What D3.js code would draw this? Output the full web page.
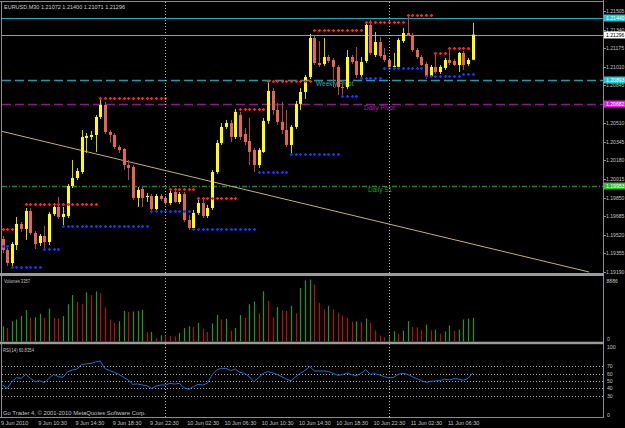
<!DOCTYPE html>
<html>
<head>
<meta charset="utf-8">
<script src="https://cdn.jsdelivr.net/npm/d3@7"></script>
<style>
body { margin:0; background:#000; }
svg { display:block; }
text { font-family:"Liberation Sans", Arial, sans-serif; font-size:5.8px; fill:#c4c4c4; }
text.axis { font-size:5.1px; }
</style>
</head>
<body>
<svg id="chart" width="625" height="428"></svg>
<script>

// EURUSD M30, 9 Jun 06:30 -> 11 Jun 09:00 (102 bars)
var opens = [1.19483,1.19385,1.19270,1.19430,1.19616,1.19572,1.19731,1.19536,1.19448,1.19510,
1.19456,1.19705,1.19767,1.19678,1.19687,1.19953,1.20024,1.20077,1.20379,1.20388,
1.20406,1.20565,1.20672,1.20432,1.20406,1.20299,1.20281,1.20139,1.20122,1.19847,
1.19927,1.19856,1.19864,1.19749,1.19864,1.19847,1.19802,1.19900,1.19811,1.19882,
1.19652,1.19581,1.19714,1.19802,1.19687,1.19758,1.20077,1.20335,1.20477,1.20512,
1.20388,1.20583,1.20414,1.20352,1.20272,1.20139,1.20255,1.20530,1.20796,1.20627,
1.20521,1.20450,1.20317,1.20477,1.20681,1.20787,1.20920,1.21266,1.21044,1.21035,
1.21097,1.21071,1.21009,1.20831,1.20831,1.21097,1.21062,1.20938,1.21062,1.21381,
1.21115,1.21230,1.21115,1.21071,1.21009,1.21009,1.21239,1.21310,1.21293,1.21159,
1.21097,1.21035,1.20929,1.21009,1.20964,1.21000,1.21071,1.21062,1.21026,1.21133,
1.21035,1.21072];

var highs = [1.19510,1.19412,1.19456,1.19678,1.19634,1.19758,1.19758,1.19554,1.19527,1.19598,
1.19723,1.19802,1.19856,1.19767,1.19971,1.20184,1.20113,1.20450,1.20423,1.20441,
1.20583,1.20743,1.20698,1.20450,1.20423,1.20317,1.20290,1.20184,1.20139,1.19944,
1.19944,1.19891,1.19882,1.19882,1.19882,1.19864,1.19918,1.19935,1.19900,1.19900,
1.19696,1.19740,1.19829,1.19829,1.19785,1.20095,1.20361,1.20512,1.20539,1.20539,
1.20636,1.20610,1.20468,1.20556,1.20290,1.20290,1.20556,1.20885,1.20822,1.20689,
1.20698,1.20627,1.20494,1.20707,1.20822,1.20938,1.21301,1.21284,1.21239,1.21266,
1.21115,1.21089,1.21026,1.20893,1.21159,1.21115,1.21186,1.21097,1.21408,1.21426,
1.21319,1.21275,1.21177,1.21089,1.21133,1.21266,1.21355,1.21470,1.21310,1.21177,
1.21115,1.21053,1.21026,1.21142,1.21026,1.21089,1.21177,1.21080,1.21142,1.21151,
1.21089,1.21400];

var lows = [1.19359,1.19244,1.19235,1.19385,1.19545,1.19474,1.19519,1.19394,1.19421,1.19385,
1.19430,1.19687,1.19660,1.19598,1.19669,1.19935,1.20006,1.20060,1.20246,1.20361,
1.20255,1.20547,1.20414,1.20335,1.20281,1.20246,1.20095,1.20006,1.19829,1.19767,
1.19767,1.19811,1.19740,1.19740,1.19820,1.19785,1.19785,1.19802,1.19794,1.19634,
1.19563,1.19563,1.19696,1.19669,1.19669,1.19740,1.20060,1.20317,1.20459,1.20343,
1.20370,1.20361,1.20317,1.20139,1.20077,1.20113,1.20246,1.20503,1.20583,1.20494,
1.20414,1.20299,1.20246,1.20459,1.20627,1.20725,1.20902,1.21026,1.21009,1.21018,
1.21044,1.20831,1.20760,1.20760,1.20814,1.21035,1.20911,1.20920,1.21044,1.21115,
1.21097,1.21089,1.21053,1.21000,1.20982,1.20991,1.21222,1.21284,1.21142,1.21080,
1.21018,1.20902,1.20911,1.20947,1.20947,1.20982,1.21026,1.21018,1.20964,1.20982,
1.21018,1.21071];

var closes = [1.19385,1.19270,1.19439,1.19616,1.19572,1.19731,1.19536,1.19439,1.19510,1.19456,
1.19705,1.19767,1.19678,1.19705,1.19953,1.20024,1.20086,1.20388,1.20397,1.20406,
1.20565,1.20672,1.20432,1.20406,1.20299,1.20272,1.20139,1.20113,1.19847,1.19918,
1.19847,1.19864,1.19749,1.19864,1.19838,1.19802,1.19891,1.19811,1.19882,1.19652,
1.19581,1.19714,1.19802,1.19687,1.19758,1.20077,1.20335,1.20477,1.20512,1.20388,
1.20610,1.20388,1.20343,1.20255,1.20139,1.20272,1.20530,1.20796,1.20627,1.20521,
1.20450,1.20317,1.20477,1.20681,1.20787,1.20920,1.21266,1.21044,1.21026,1.21097,
1.21062,1.21009,1.20831,1.20822,1.21097,1.21053,1.20938,1.21053,1.21381,1.21133,
1.21230,1.21106,1.21071,1.21009,1.21018,1.21248,1.21310,1.21293,1.21159,1.21097,
1.21026,1.20920,1.21009,1.20964,1.21009,1.21071,1.21044,1.21026,1.21133,1.21026,
1.21071,1.21296];

var volumes = [2185,1940,2900,3150,3640,4515,3400,3450,3980,3400,
4710,3400,3300,3640,5340,6650,5680,5390,7040,6650,
7190,6940,4860,3150,2670,2900,4370,4225,4300,4400,
4515,1310,1360,485,900,850,820,730,1210,1940,
2185,2090,2670,1845,1360,2575,3790,3150,3250,1555,
1940,3790,3400,5340,5730,4030,7190,5830,3500,4950,
4470,4370,5100,4030,7670,8740,8886,8160,5540,4610,
5100,4610,4130,3740,3400,2850,2900,2820,3300,2670,
1600,875,580,730,1460,1120,1555,2910,2090,2040,
1600,2430,1600,1700,1120,1460,2280,1555,1700,3150,
3300,3357];

var rsi = [44.6,40.0,49.1,54.5,53.6,59.0,53.6,49.1,50.4,47.7,
53.6,59.0,55.9,55.0,62.6,64.9,66.2,72.5,73.0,73.8,
75.7,77.0,66.7,64.0,61.7,59.0,55.0,51.4,45.5,46.0,
44.6,43.7,40.0,43.2,44.6,44.6,46.8,45.9,46.8,41.0,
38.7,42.3,45.5,44.6,46.8,58.1,64.9,67.1,67.1,64.0,
66.2,61.7,60.4,55.9,49.1,54.5,60.4,62.6,61.2,58.6,
55.9,52.3,50.4,55.9,60.6,64.4,69.4,63.5,63.5,63.5,
63.0,60.4,57.7,58.6,60.8,58.6,57.2,60.4,65.3,59.0,
59.9,58.1,55.9,54.1,55.0,59.0,60.4,59.0,55.9,53.2,
50.4,48.2,49.5,50.0,50.9,52.3,51.4,53.2,52.7,50.9,
53.6,60.8354];

// resistance (red +) and support (blue +) steps: bar range and level
var resLevels = [
  {from:0, to:2, price:1.19572}, {from:5, to:20, price:1.19794},
  {from:21, to:35, price:1.20734}, {from:36, to:41, price:1.19927},
  {from:42, to:50, price:1.19847}, {from:51, to:56, price:1.20636},
  {from:57, to:66, price:1.20885}, {from:67, to:77, price:1.21337},
  {from:78, to:86, price:1.21408}, {from:87, to:92, price:1.21470},
  {from:93, to:95, price:1.21133}, {from:96, to:100, price:1.21177}
];
var supLevels = [
  {from:0, to:1, price:1.19421}, {from:2, to:8, price:1.19235},
  {from:9, to:12, price:1.19394}, {from:13, to:31, price:1.19598},
  {from:32, to:40, price:1.19731}, {from:41, to:54, price:1.19572},
  {from:55, to:61, price:1.20077}, {from:62, to:72, price:1.20237},
  {from:73, to:76, price:1.20751}, {from:77, to:81, price:1.20911},
  {from:82, to:90, price:1.21000}, {from:91, to:98, price:1.20929},
  {from:99, to:101, price:1.20947}
];

var priceTicks = [1.21505,1.21340,1.21175,1.21010,1.20845,1.20680,1.20510,1.20345,
                  1.20180,1.20015,1.19850,1.19685,1.19520,1.19355,1.19190];

var timeLabels = [
  {bar:0, text:"9 Jun 2010"}, {bar:8, text:"9 Jun 10:30"}, {bar:16, text:"9 Jun 14:30"},
  {bar:24, text:"9 Jun 18:30"}, {bar:32, text:"9 Jun 22:30"}, {bar:40, text:"10 Jun 02:30"},
  {bar:48, text:"10 Jun 06:30"}, {bar:56, text:"10 Jun 10:30"}, {bar:64, text:"10 Jun 14:30"},
  {bar:72, text:"10 Jun 18:30"}, {bar:80, text:"10 Jun 22:30"}, {bar:88, text:"11 Jun 02:30"},
  {bar:96, text:"11 Jun 06:30"}
];
var daySeparators = [35, 83];

var hLevels = [
  {name:"top",    price:1.21440, color:"#1fa9b8", dash:null,  tag:"1.21440", tagFill:"#22c8d0", tagText:"#ffffff"},
  {name:"bid",    price:1.21296, color:"#9a9a9a", dash:null,  tag:"1.21296", tagFill:"#ffffff", tagText:"#000000"},
  {name:"weekly", price:1.20893, color:"#1a9aa8", dash:"9,4", tag:"1.20893", tagFill:"#22c8d0", tagText:"#ffffff", label:"Weekly Pivot", lx:316, lc:"#2aa8b0"},
  {name:"dpivot", price:1.20682, color:"#8c1a8c", dash:"9,4", tag:"1.20682", tagFill:"#e020e0", tagText:"#ffffff", label:"Daily Pivot", lx:364, lc:"#a428a4"},
  {name:"ds1",    price:1.19953, color:"#1e8a1e", dash:"5,2,1,2", tag:"1.19953", tagFill:"#30c030", tagText:"#ffffff", label:"Daily S1", lx:368, lc:"#2a9a2a"}
];
var trendPoints = [{bar:-0.5, price:1.20441}, {bar:126, price:1.19190}];

var rsiLevels = [70, 60, 50, 40, 30];


var svg = d3.select("#chart");
svg.append("rect").attr("width",625).attr("height",428).attr("fill","#000");

var x = d3.scaleLinear().domain([0,101]).range([2.5,472.7]);
var y = d3.scaleLinear().domain([1.19190,1.21505]).range([272,11]);
var yVol = d3.scaleLinear().domain([0,8886]).range([341.5,279.5]);
var yRsi = d3.scaleLinear().domain([0,100]).range([418,344]);

var bars = d3.range(opens.length).map(function(i){
  return {i:i, o:opens[i], h:highs[i], l:lows[i], c:closes[i], v:volumes[i], r:rsi[i]};
});

svg.append("clipPath").attr("id","mainClip")
  .append("rect").attr("x",2).attr("y",2).attr("width",601).attr("height",271);

var main = svg.append("g").attr("clip-path","url(#mainClip)");

// small helper, squeezes a text to the width it has in the screenshot
function label(sel, txt, w){
  var t = sel.append("text").text(txt);
  if (w) t.attr("textLength",w).attr("lengthAdjust","spacingAndGlyphs");
  return t;
}


//// horizontal level lines
hLevels.forEach(function(d){
  main.append("line")
    .attr("x1",2).attr("x2",603)
    .attr("y1",Math.round(y(d.price))+0.5).attr("y2",Math.round(y(d.price))+0.5)
    .attr("stroke",d.color)
    .attr("stroke-width", d.dash ? 1.3 : 1)
    .attr("stroke-dasharray",d.dash);
});

// trend line
main.append("line")
  .attr("x1",x(trendPoints[0].bar)).attr("y1",y(trendPoints[0].price))
  .attr("x2",x(trendPoints[1].bar)).attr("y2",y(trendPoints[1].price))
  .attr("stroke","#bfae88").attr("stroke-width",1);

// day separators
daySeparators.forEach(function(b){
  svg.append("line")
    .attr("x1",Math.round(x(b))+0.5).attr("x2",Math.round(x(b))+0.5)
    .attr("y1",2).attr("y2",417)
    .attr("stroke","#b4b4b4").attr("stroke-dasharray","1,2");
});

// level labels
hLevels.filter(function(d){return d.label}).forEach(function(d){
  label(main, d.label)
    .attr("x",d.lx).attr("y",y(d.price)+6)
    .style("font-size","6.5px")
    .style("fill",d.lc);
});


//// candles
var candle = main.selectAll("g.candle").data(bars).enter().append("g").attr("class","candle");

candle.append("line")
  .attr("x1",function(d){return Math.round(x(d.i))+0.5})
  .attr("x2",function(d){return Math.round(x(d.i))+0.5})
  .attr("y1",function(d){return y(d.h)})
  .attr("y2",function(d){return y(d.l)})
  .attr("stroke",function(d){return d.c>=d.o ? "#d2d200" : "#b04a3a"});

candle.append("rect")
  .attr("x",function(d){return Math.round(x(d.i))-1})
  .attr("width",3)
  .attr("y",function(d){return y(Math.max(d.o,d.c))})
  .attr("height",function(d){return Math.max(1, Math.abs(y(d.o)-y(d.c)))})
  .attr("fill",function(d){return d.c>=d.o ? "#ffff00" : "#e3664e"});


//// red / blue step markers
function plusPath(px,py){
  return "M"+(px-1.6)+","+py+"h3.2M"+px+","+(py-1.6)+"v3.2";
}
function drawSteps(levels,color){
  levels.forEach(function(s){
    d3.range(s.from,s.to+1).forEach(function(b){
      main.append("path")
        .attr("d",plusPath(Math.round(x(b))+0.5, Math.round(y(s.price))+0.5))
        .attr("stroke",color).attr("stroke-width",1.3);
    });
  });
}
drawSteps(resLevels,"#ff2020");
drawSteps(supLevels,"#1838e8");


//// price axis
svg.append("line").attr("x1",603.5).attr("x2",603.5).attr("y1",0).attr("y2",418)
  .attr("stroke","#8c8c8c");

priceTicks.forEach(function(p){
  svg.append("line").attr("x1",603).attr("x2",606)
    .attr("y1",Math.round(y(p))+0.5).attr("y2",Math.round(y(p))+0.5).attr("stroke","#8c8c8c");
  label(svg, p.toFixed(5)).attr("class","axis").attr("x",606).attr("y",y(p)+2);
});

// price tags of the lines
hLevels.forEach(function(d){
  var ty = Math.round(y(d.price));
  svg.append("rect").attr("x",604).attr("y",ty-3.5).attr("width",21).attr("height",7)
    .attr("fill",d.tagFill);
  label(svg, d.tag).attr("class","axis").attr("x",606).attr("y",ty+2).style("fill",d.tagText);
});


//// panel frame
svg.append("line").attr("x1",0).attr("x2",604).attr("y1",1.5).attr("y2",1.5).attr("stroke","#8c8c8c");
svg.append("line").attr("x1",1.5).attr("x2",1.5).attr("y1",1).attr("y2",418).attr("stroke","#8c8c8c");
svg.append("rect").attr("x",0).attr("y",273).attr("width",604).attr("height",3).attr("fill","#9a9a9a");
svg.append("rect").attr("x",0).attr("y",341.7).attr("width",604).attr("height",2.5).attr("fill","#9a9a9a");
svg.append("line").attr("x1",0).attr("x2",604).attr("y1",417.5).attr("y2",417.5).attr("stroke","#8c8c8c");


//// volumes
svg.append("g").selectAll("line").data(bars).enter().append("line")
  .attr("x1",function(d){return Math.round(x(d.i))+0.5})
  .attr("x2",function(d){return Math.round(x(d.i))+0.5})
  .attr("y1",yVol(0))
  .attr("y2",function(d){return yVol(d.v)})
  .attr("stroke",function(d,i){return (i==0 || d.v>volumes[i-1]) ? "#1d9a1d" : "#b41010"})
  .attr("stroke-width",1.2);

label(svg, "Volumes " + volumes[volumes.length-1], 26).attr("x",4).attr("y",283);
label(svg, String(d3.max(volumes))).attr("class","axis").attr("x",606.5).attr("y",283);
label(svg, "0").attr("class","axis").attr("x",607).attr("y",341);


//// RSI
rsiLevels.forEach(function(l){
  svg.append("line").attr("x1",2).attr("x2",603)
    .attr("y1",Math.round(yRsi(l))+0.5).attr("y2",Math.round(yRsi(l))+0.5)
    .attr("stroke","#a8a8a8").attr("stroke-dasharray","1,2");
  label(svg, l).attr("class","axis").attr("x",607).attr("y",yRsi(l)+2);
});
label(svg, "100").attr("class","axis").attr("x",607).attr("y",yRsi(100)+5);
label(svg, "0").attr("class","axis").attr("x",607).attr("y",yRsi(0)-1);

svg.append("path")
  .datum(bars)
  .attr("fill","none").attr("stroke","#2070c8").attr("stroke-width",1)
  .attr("d",d3.line().x(function(d){return x(d.i)}).y(function(d){return yRsi(d.r)}));

label(svg, "RSI(14) " + rsi[rsi.length-1].toFixed(4), 31).attr("x",3).attr("y",351.5);
label(svg, "Go Trader 4, \u00a9 2001-2010 MetaQuotes Software Corp.", 143).attr("x",3).attr("y",414.5);


//// time axis
timeLabels.forEach(function(t){
  label(svg, t.text).attr("x",x(t.bar)-1.5).attr("y",424.5).style("font-size","5.5px");
});

// header
label(svg, "EURUSD,M30  " + [opens[101],highs[101],lows[101],closes[101]].map(function(v){return v.toFixed(5)}).join(" "), 121)
  .attr("x",4).attr("y",8.5).style("fill","#d0d0d0");

</script>
</body>
</html>
